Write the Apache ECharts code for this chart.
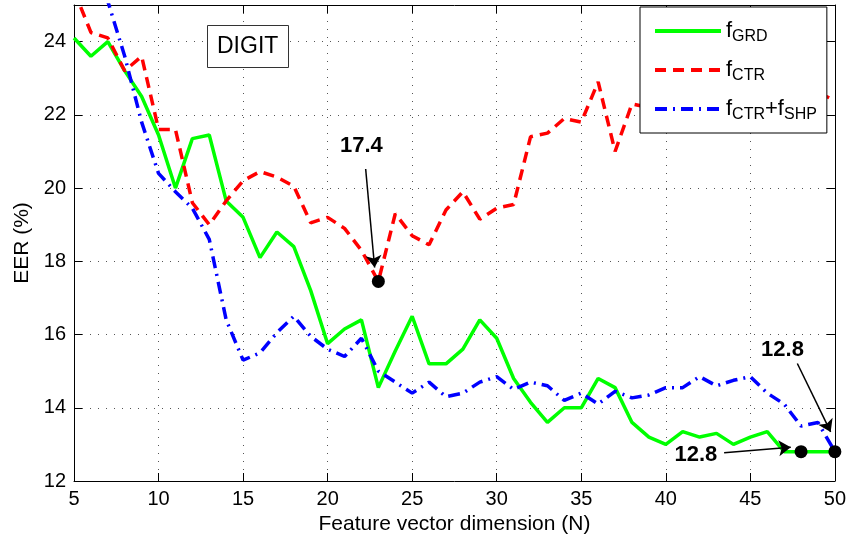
<!DOCTYPE html>
<html>
<head>
<meta charset="utf-8">
<script src="https://cdn.jsdelivr.net/npm/echarts@6/dist/echarts.min.js"></script>
<style>
  html, body { margin: 0; padding: 0; background: #fff; }
  #main { width: 849px; height: 543px; }
</style>
</head>
<body>
<div id="main"></div>
<script>
// feature vector dimension N
var dims = [5, 6, 7, 8, 9, 10, 11, 12, 13, 14, 15, 16, 17, 18, 19, 20, 21, 22, 23, 24, 25, 26, 27,
  28, 29, 30, 31, 32, 33, 34, 35, 36, 37, 38, 39, 40, 41, 42, 43, 44, 45, 46, 47, 48, 49, 50];

// EER (%) per series
var grd = [24.1, 23.6, 24.0, 23.2, 22.5, 21.45, 20.0, 21.35, 21.45, 19.65, 19.2, 18.1, 18.8, 18.4,
  17.2, 15.75, 16.15, 16.4, 14.55, 15.55, 16.5, 15.2, 15.2, 15.6, 16.4, 15.9, 14.8, 14.15, 13.6,
  14.0, 14.0, 14.8, 14.55, 13.6, 13.2, 13.0, 13.35, 13.2, 13.3, 13.0, 13.2, 13.35, 12.8, 12.8, 12.8, 12.8];
var ctr = [25.4, 24.25, 24.1, 23.2, 23.6, 21.6, 21.6, 19.6, 19.0, 19.65, 20.2, 20.45, 20.3, 20.05,
  19.05, 19.2, 18.9, 18.3, 17.45, 19.3, 18.7, 18.45, 19.4, 19.9, 19.15, 19.45, 19.55, 21.4, 21.5,
  21.9, 21.8, 22.9, 21.0, 22.3, 22.2, 22.6, 22.4, 22.8, 22.5, 22.9, 22.6, 22.4, 22.7, 22.5, 22.6, 22.4];
var shp = [26.3, 26.0, 25.1, 23.6, 21.8, 20.4, 19.9, 19.45, 18.6, 16.4, 15.3, 15.5, 16.05, 16.5,
  15.95, 15.6, 15.4, 15.9, 15.0, 14.7, 14.4, 14.7, 14.3, 14.4, 14.7, 14.85, 14.5, 14.7, 14.6,
  14.2, 14.4, 14.1, 14.45, 14.27, 14.35, 14.55, 14.55, 14.85, 14.6, 14.75, 14.85, 14.4, 14.1, 13.5, 13.6, 12.8];

var names = ['fGRD', 'fCTR', 'fCTR+fSHP'];
var legendText = {
  'fGRD': '{f|f}{s|GRD}',
  'fCTR': '{f|f}{s|CTR}',
  'fCTR+fSHP': '{f|f}{s|CTR}{f|+f}{s|SHP}'
};

function pairs(ys) {
  return dims.map(function (d, i) { return [d, ys[i]]; });
}

var font = '"Liberation Sans", Arial, Helvetica, sans-serif';
var gridLine = { show: true, lineStyle: { color: '#555', width: 1, type: [1, 7] } };
var tick = { show: true, inside: true, length: 8, lineStyle: { color: '#000' } };
var line = { show: true, onZero: false, lineStyle: { color: '#000', width: 1 } };

function dot(x, y) {
  return { coord: [x, y], symbol: 'circle', symbolSize: 13, itemStyle: { color: '#000' }, label: { show: false } };
}
function note(x, y, txt) {
  return {
    coord: [x, y], symbol: 'circle', symbolSize: 1, itemStyle: { color: 'rgba(0,0,0,0)' },
    label: { show: true, position: 'inside', formatter: txt, color: '#000', fontSize: 22, fontWeight: 'bold', fontFamily: font }
  };
}
function arrow(x1, y1, x2, y2) {
  return [{ coord: [x1, y1] }, { coord: [x2, y2] }];
}
var arrowStyle = {
  silent: true, symbol: ['none', 'arrow'], symbolSize: 12,
  label: { show: false }, lineStyle: { color: '#000', width: 1.5, type: 'solid' }
};

var myChart = echarts.init(document.getElementById('main'));
myChart.setOption({
  animation: false,
  title: {
    text: 'DIGIT', left: 207, top: 25, padding: [9, 10, 9, 10],
    borderWidth: 1, borderColor: '#333', backgroundColor: '#fff',
    textStyle: { fontSize: 23, fontWeight: 'normal', fontFamily: font, color: '#000', lineHeight: 25 }
  },
  legend: {
    data: names, orient: 'vertical', left: 640, top: 7,
    padding: [10, 10, 10, 13], itemWidth: 66, itemHeight: 14, itemGap: 11,
    backgroundColor: '#fff', borderColor: '#000', borderWidth: 1, selectedMode: false,
    itemStyle: { opacity: 0 }, lineStyle: { width: 4 },
    formatter: function (n) { return legendText[n]; },
    textStyle: {
      fontFamily: font, color: '#000',
      rich: {
        f: { fontSize: 22, lineHeight: 30, fontFamily: font, color: '#000' },
        s: { fontSize: 16, lineHeight: 18, padding: [12, 0, 0, 0], fontFamily: font, color: '#000' }
      }
    }
  },
  grid: { left: 74, right: 13, top: 5, bottom: 62, containLabel: false },
  xAxis: [{
    type: 'value', min: 5, max: 50, interval: 5,
    name: 'Feature vector dimension (N)', nameLocation: 'middle', nameGap: 31,
    nameTextStyle: { fontSize: 21, fontFamily: font, color: '#000' },
    axisLine: line, axisTick: tick, splitLine: gridLine,
    axisLabel: { fontSize: 20, fontFamily: font, color: '#000', margin: 8 }
  }, {
    type: 'value', position: 'top', min: 5, max: 50, interval: 5,
    axisLine: line, axisTick: tick, splitLine: { show: false }, axisLabel: { show: false }
  }],
  yAxis: [{
    type: 'value', min: 12, max: 25, interval: 2,
    name: 'EER (%)', nameLocation: 'middle', nameGap: 41,
    nameTextStyle: { fontSize: 21, fontFamily: font, color: '#000' },
    axisLine: line, axisTick: tick, splitLine: gridLine,
    axisLabel: { fontSize: 20, fontFamily: font, color: '#000', margin: 8, showMaxLabel: false }
  }, {
    type: 'value', position: 'right', min: 12, max: 25, interval: 2,
    axisLine: line, axisTick: tick, splitLine: { show: false }, axisLabel: { show: false }
  }],
  series: [
    {
      name: names[0], type: 'line', data: pairs(grd), showSymbol: false, symbol: 'none',
      lineStyle: { color: '#00ff00', width: 3.5, type: 'solid' }, itemStyle: { color: '#00ff00' },
      emphasis: { disabled: true },
      markPoint: { silent: true, data: [dot(48, 12.8), dot(50, 12.8), note(41.78, 12.71, '12.8')] },
      markLine: Object.assign({ data: [arrow(43.45, 12.77, 47.39, 12.92)] }, arrowStyle)
    },
    {
      name: names[1], type: 'line', data: pairs(ctr), showSymbol: false, symbol: 'none',
      lineStyle: { color: '#ff0000', width: 3.5, type: [11, 7] }, itemStyle: { color: '#ff0000' },
      emphasis: { disabled: true },
      markPoint: { silent: true, data: [dot(23, 17.45), note(22.0, 21.16, '17.4')] },
      markLine: Object.assign({ data: [arrow(22.25, 20.52, 22.78, 17.83)] }, arrowStyle)
    },
    {
      name: names[2], type: 'line', data: pairs(shp), showSymbol: false, symbol: 'none',
      lineStyle: { color: '#0000ff', width: 3.5, type: [12, 6, 2, 6] }, itemStyle: { color: '#0000ff' },
      emphasis: { disabled: true },
      markPoint: { silent: true, data: [note(46.9, 15.57, '12.8')] },
      markLine: Object.assign({ data: [arrow(47.78, 15.21, 49.75, 13.34)] }, arrowStyle)
    }
  ]
});
</script>
</body>
</html>
